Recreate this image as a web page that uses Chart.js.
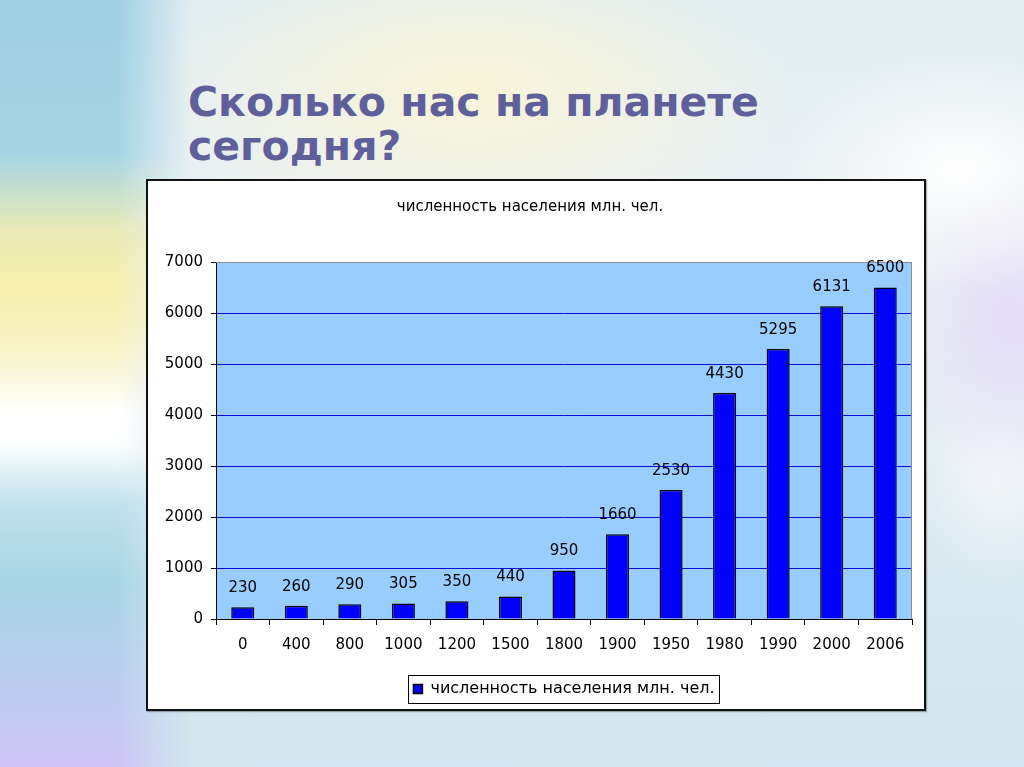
<!DOCTYPE html>
<html>
<head>
<meta charset="utf-8">
<script src="https://cdn.jsdelivr.net/npm/chart.js@4/dist/chart.umd.min.js"></script>
<style>
  html, body { margin: 0; padding: 0; }
  body {
    width: 1024px; height: 767px; overflow: hidden; position: relative;
    background:
      radial-gradient(ellipse 330px 150px at 470px 90px, rgba(251,245,215,0.95), rgba(251,245,215,0) 100%),
      radial-gradient(ellipse 180px 120px at 960px 170px, rgba(255,255,255,0.95), rgba(255,255,255,0) 100%),
      radial-gradient(ellipse 110px 170px at 1010px 320px, rgba(228,220,246,0.95), rgba(228,220,246,0) 100%),
      radial-gradient(ellipse 90px 120px at 1000px 470px, rgba(250,250,252,0.8), rgba(250,250,252,0) 100%),
      linear-gradient(180deg, #e2edf2 0%, #edf2f4 35%, #dbe9f0 70%, #d1e6ee 100%);
  }
  #strip {
    position: absolute; left: 0; top: 0; width: 190px; height: 767px;
    background: linear-gradient(180deg, #9fd0e3 0%, #a6d4e4 20%, #e9eab6 30%, #f5f0ad 37%, #f7f2c0 44%, #ffffff 54%, #fdfefe 58%, #bfe0ea 66%, #a9d4e5 76%, #b9cdee 88%, #cfc4f4 100%);
    -webkit-mask-image: linear-gradient(90deg, #000 0%, #000 62%, rgba(0,0,0,0) 100%);
    mask-image: linear-gradient(90deg, #000 0%, #000 62%, rgba(0,0,0,0) 100%);
  }
  #title {
    position: absolute; left: 188px; top: 80px;
    font-family: "DejaVu Sans", sans-serif; font-weight: bold;
    font-size: 41px; line-height: 44px; color: #5f5f9c;
    white-space: nowrap;
  }
  #box {
    position: absolute; left: 146px; top: 179px;
    width: 776px; height: 528px;
    border: 2px solid #111; background: #fff;
    box-shadow: 1px 1px 1px rgba(0,0,0,0.3);
  }
  canvas { display: block; }
</style>
</head>
<body>
<div id="strip"></div>
<div id="title">Сколько нас на планете<br>сегодня?</div>
<div id="box"><canvas id="chart" width="776" height="528"></canvas></div>
<script>
// значения с графика
var years = ['0', '400', '800', '1000', '1200', '1500', '1800', '1900', '1950', '1980', '1990', '2000', '2006'];
var population = [230, 260, 290, 305, 350, 440, 950, 1660, 2530, 4430, 5295, 6131, 6500];
var seriesName = 'численность населения млн. чел.';
var yMax = 7000;
var yStep = 1000;

Chart.defaults.font.family = '"DejaVu Sans", sans-serif';
Chart.defaults.font.size = 15;
Chart.defaults.color = '#000';

// фон области построения и серая рамка сверху/справа
var plotArea = {
    id: 'plotArea',
    beforeDraw: function(chart) {
        var a = chart.chartArea, c = chart.ctx;
        c.save();
        c.fillStyle = '#99ccff';
        c.fillRect(a.left, a.top, a.right - a.left, a.bottom - a.top);
        c.restore();
    },
    beforeDatasetsDraw: function(chart) {
        var a = chart.chartArea, c = chart.ctx;
        c.save();
        c.strokeStyle = '#8c8c8c';
        c.lineWidth = 1;
        c.beginPath();
        c.moveTo(a.left, a.top + 0.5);
        c.lineTo(a.right - 0.5, a.top + 0.5);
        c.lineTo(a.right - 0.5, a.bottom);
        c.stroke();
        c.restore();
    }
};

// подписи значений над столбиками
var barValues = {
    id: 'barValues',
    afterDatasetsDraw: function(chart) {
        var c = chart.ctx;
        var meta = chart.getDatasetMeta(0);
        c.save();
        c.font = '15px "DejaVu Sans", sans-serif';
        c.fillStyle = '#000';
        c.textAlign = 'center';
        c.textBaseline = 'middle';
        meta.data.forEach(function(bar, i) {
            c.fillText(population[i], bar.x, bar.y - 19);
        });
        c.restore();
    }
};

// рамка вокруг легенды
var legendFrame = {
    id: 'legendFrame',
    afterDraw: function(chart) {
        var hb = chart.legend.legendHitBoxes[0];
        if (!hb) return;
        var c = chart.ctx;
        c.save();
        c.strokeStyle = '#000';
        c.lineWidth = 1;
        c.strokeRect(Math.round(hb.left - 5) + 0.5, Math.round(hb.top - 6) + 0.5, Math.round(hb.width + 10), Math.round(hb.height + 12));
        c.restore();
    }
};

new Chart(document.getElementById('chart'), {
    type: 'bar',
    data: {
        labels: years,
        datasets: [{
            label: seriesName,
            data: population,
            backgroundColor: '#0000ff',
            borderColor: '#000',
            borderWidth: 1.5,
            barPercentage: 0.43,
            categoryPercentage: 1
        }]
    },
    options: {
        responsive: false,
        animation: false,
        layout: { padding: { left: 0, right: 12, top: 0, bottom: 2 } },
        plugins: {
            title: {
                display: true,
                text: seriesName,
                font: { size: 15, weight: 'normal' },
                color: '#000',
                padding: { top: 17, bottom: 46 }
            },
            legend: {
                position: 'bottom',
                fullSize: false,
                labels: { boxWidth: 9, boxHeight: 9, padding: 10, font: { size: 16 } }
            },
            tooltip: { enabled: false }
        },
        scales: {
            x: {
                grid: { drawOnChartArea: false, drawTicks: true, tickLength: 6, tickColor: '#000', offset: true },
                border: { color: '#000', width: 1 },
                ticks: { padding: 11, maxRotation: 0, autoSkip: false },
                afterFit: function(scale) { scale.height += 6; }
            },
            y: {
                min: 0,
                max: yMax,
                ticks: {
                    stepSize: yStep,
                    padding: 8,
                    callback: function(v) { return String(v); }
                },
                grid: {
                    color: function(ctx) {
                        if (ctx.tick && ctx.tick.value === yMax) return '#8c8c8c';
                        if (ctx.tick && ctx.tick.value === 0) return '#000';
                        return '#0a0ad2';
                    },
                    lineWidth: 1,
                    tickLength: 5,
                    tickColor: '#000'
                },
                border: { color: '#000', width: 1 },
                afterFit: function(scale) { scale.width = 68; }
            }
        }
    },
    plugins: [plotArea, barValues, legendFrame]
});
</script>
</body>
</html>
